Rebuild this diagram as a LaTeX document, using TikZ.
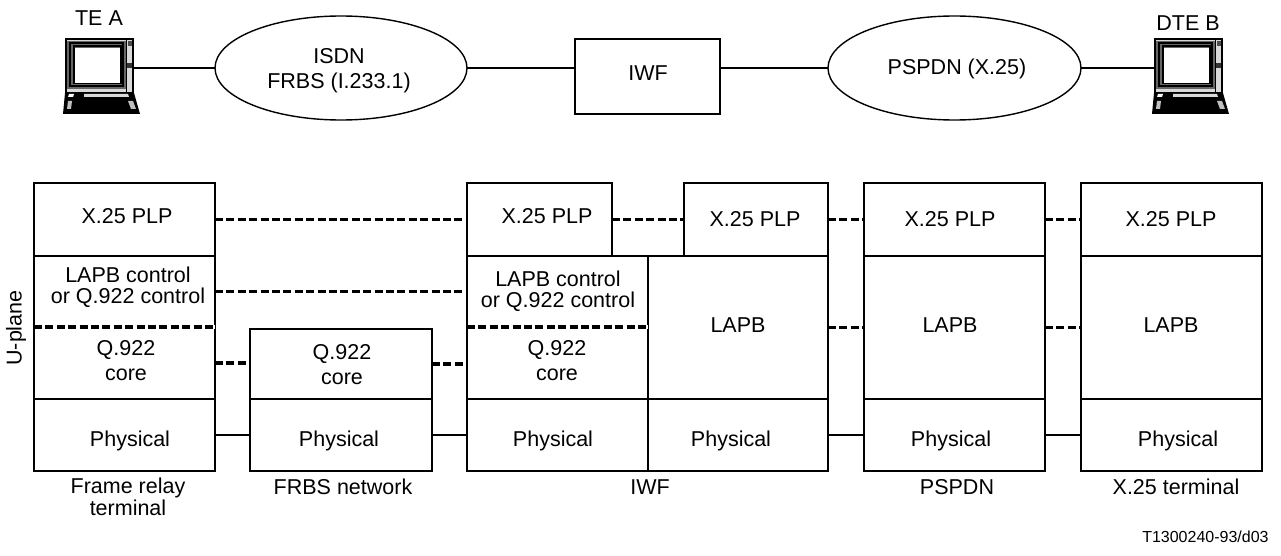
\documentclass[tikz,border=0pt]{standalone}
\usepackage{fontspec}
\setmainfont{Liberation Sans}
\usetikzlibrary{shapes.geometric}
\tikzset{
	cell/.style={draw, line width=0.7pt, rectangle, outer sep=0pt, inner sep=0pt, anchor=north west},
	cloud/.style={draw, line width=0.7pt, ellipse, outer sep=0pt, inner sep=0pt, minimum width=#1*0.5pt, minimum height=52pt, align=center},
	layertext/.style={inner sep=0pt, align=center},
	peerlink/.style={line width=1.6pt, dash pattern=on 4pt off 1.7pt},
	wire/.style={line width=0.7pt},
	terminal/.pic={
		\coordinate (-west) at (0,29);
		\coordinate (-east) at (67,29);
		\filldraw[fill=black!15, line width=0.6pt] (0,0) rectangle (67,54);
		\fill[black!60] (1,2) rectangle (60,50);
		\draw[line width=1.1pt] (4,4) rectangle (57,47);
		\draw[line width=0.7pt] (8,7) rectangle (55,44);
		\fill[white] (9,9) rectangle (54,44);
		\draw[line width=0.5pt] (60,0) -- (60,54);
		\fill[black!70] (62,2) rectangle (66,7);
		\fill[black!80] (61,24) rectangle (66,29);
		\fill (-1,54) -- (68,54) -- (74,75) -- (-3,75) -- cycle;
		\fill[black!15] (18,55) -- (62,55) -- (63,58) -- (18,58) -- cycle;
		\fill[white] (3,55) -- (8,55) -- (7,58) -- (2,58) -- cycle;
		\fill[black!25] (2,62) -- (6,62) -- (5,70) -- (1,70) -- cycle;
		\fill[black!25] (62,62) -- (67,62) -- (70,70) -- (65,70) -- cycle;
	}
}
\begin{document}
\begin{tikzpicture}[x=0.5pt, y=-0.5pt, font=\fontsize{10.75}{10.75}\selectfont]
	\useasboundingbox (0,0) rectangle (1281,556);

	% upper row
	\pic (tea) at (66,39) {terminal};
	\pic (dteb) at (1155,39) {terminal};
	\node[cloud=252] (isdn) at (341,68) {};
	\node[cloud=253] (pspdn) at (954.5,68) {};
	\node[cell, minimum width=72.5pt, minimum height=37.5pt] (iwfbox) at (575,39) {};
	\draw[wire] (tea-east) -- (isdn.west);
	\draw[wire] (isdn.east) -- (isdn.east -| iwfbox.west);
	\draw[wire] (isdn.east -| iwfbox.east) -- (pspdn.west);
	\draw[wire] (pspdn.east) -- (dteb-west);

	% protocol stacks
	\foreach \cellname/\xpos/\ypos/\cellw/\cellh in {
		plpa/34/183/181/73, ctla/34/256/181/71, corea/34/327/181/72, phya/34/399/181/72,
		coren/250/329/182/70, phyn/250/399/182/72,
		plpb/467/183/145/73, ctlb/467/256/181/71, coreb/467/327/181/72, phyb/467/399/181/72,
		plpc/684/183/144/73, lapbc/648/256/180/143, phyc/648/399/180/72,
		plpd/864/183/181/73, lapbd/864/256/181/143, phyd/864/399/181/72,
		plpe/1081/183/181/73, lapbe/1081/256/181/143, phye/1081/399/181/72}
	\node[cell, minimum width=\cellw*0.5pt, minimum height=\cellh*0.5pt] (\cellname) at (\xpos,\ypos) {};

	% texts
	\foreach \xpos/\ypos/\celltext [count=\i] in {
		99/18/TE A, 1188/23/DTE B, 339/71/ISDN\\[1.75pt]FRBS (I.233.1), 648/73/IWF, 957/69/PSPDN (X.25),
		127/216/X.25 PLP, 547/216/X.25 PLP, 755/219/X.25 PLP, 950/219/X.25 PLP, 1171/219/X.25 PLP,
		128/287/LAPB control\\or Q.922 control, 558/291/LAPB control\\or Q.922 control,
		126/361/Q.922\\[1.75pt]core, 342/365/Q.922\\[1.75pt]core, 557/361/Q.922\\[1.75pt]core,
		738/325/LAPB, 950/325/LAPB, 1171/325/LAPB,
		130/441/Physical, 339/441/Physical, 553/441/Physical, 731/441/Physical, 951/441/Physical, 1178/441/Physical,
		128/497/Frame relay\\terminal, 343/487/FRBS network, 650/487/IWF, 957/487/PSPDN, 1176/487/X.25 terminal}
	\node[layertext] (txt\i) at (\xpos,\ypos) {\celltext};
	\node[layertext, rotate=90] (uplane) at (16,328) {U-plane};
	\node[layertext, font=\fontsize{8}{8}\selectfont, anchor=east] (figref) at (1269,537) {T1300240-93/d03};

	% peer links
	\foreach \fromcell/\tocell in {plpa/plpb, plpb/plpc, plpc/plpd, plpd/plpe, ctla/ctlb, corea/coren, coren/coreb, lapbc/lapbd, lapbd/lapbe}
	\draw[peerlink] (\fromcell.east) -- (\fromcell.east -| \tocell.west);

	\foreach \fromcell in {ctla, ctlb} {
		\draw[white, line width=1.6pt] (\fromcell.south west) -- (\fromcell.south east);
		\draw[peerlink] (\fromcell.south west) -- (\fromcell.south east);
	}

	\foreach \fromcell/\tocell in {phya/phyn, phyn/phyb, phyc/phyd, phyd/phye}
	\draw[wire] (\fromcell.east) -- (\tocell.west);
\end{tikzpicture}
\end{document}
